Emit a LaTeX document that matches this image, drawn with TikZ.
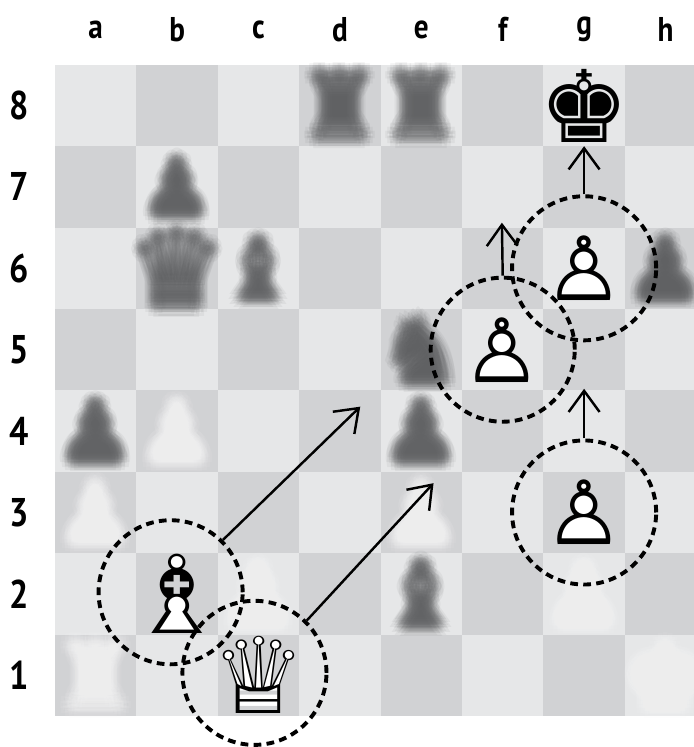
\documentclass[tikz,border=0pt]{standalone}
\usepackage{fontspec}
\usetikzlibrary{arrows.meta}
\newfontfamily\chessfont{DejaVu Sans}
\newfontfamily\boardfont[FakeStretch=0.85]{PT Sans}
\definecolor{sqlight}{RGB}{230,231,232}
\definecolor{sqdark}{RGB}{209,210,212}
\definecolor{ghostblack}{RGB}{96,97,99}
\definecolor{ghostwhite}{RGB}{250,250,250}
\tikzset{
  piece/.style={font=\chessfont\fontsize{#1}{#1}\selectfont, inner sep=0pt},
  piece/.default=32,
  ghost/.style 2 args={piece=#2, text=#1, opacity=0.075},
  filelabel/.style={font=\boardfont\bfseries\fontsize{12}{14}\selectfont, inner sep=0pt},
  ranklabel/.style={font=\boardfont\bfseries\fontsize{14}{16}\selectfont, inner sep=0pt},
  ring/.style={circle, draw, inner sep=0pt, minimum size=1.77cm, line width=0.048cm,
    dash pattern=on 0.095cm off 0.065cm},
  movearrow/.style={line width=0.03cm, -{Straight Barb[length=0.26cm,width=0.38cm]}},
}
% soft piece: the glyph laid down a few times round the square centre
\newcommand\ghostpiece[4][32]{%
  \foreach \a in {0,30,...,330} {
    \node[ghost={#3}{#1}, shift={(\a:0.035)}] (#2-in-\a) at (#2) {#4};
    \node[ghost={#3}{#1}, shift={(\a+15:0.075)}] (#2-mid-\a) at (#2) {#4};
    \node[ghost={#3}{#1}, shift={(\a:0.115)}] (#2-out-\a) at (#2) {#4};
  }%
}
\begin{document}
\begin{tikzpicture}
\useasboundingbox (-0.676,-0.381) rectangle (7.850,8.796);
\clip (-0.676,-0.381) rectangle (7.850,8.796);
\fill[white] (-0.676,-0.381) rectangle (7.850,8.796);

% Drawing the board
\fill[sqlight] (0,0) rectangle (8,8);
\foreach \row in {0,2,4,6}
  \foreach \col in {0,2,4,6} {
    \fill[sqdark] (\col,\row) rectangle ++(1,1);
    \fill[sqdark] (\col+1,\row+1) rectangle ++(1,1);
  }

% Square centres a1 ... h8
\foreach \f [count=\i from 0] in {a,...,h}
  \foreach \r in {1,...,8}
    \coordinate (\f\r) at (\i+0.5,\r-0.5);

% Files and ranks
\foreach \f [count=\i from 0] in {a,...,h}
  \node[filelabel] (file-\f) at (\i+0.5,8.43) {\f};
\foreach \r in {1,...,8}
  \node[ranklabel] (rank-\r) at (-0.44,\r-0.5) {\r};

% Pieces left soft
\ghostpiece{d8}{ghostblack}{♜}
\ghostpiece{e8}{ghostblack}{♜}
\ghostpiece[28]{b7}{ghostblack}{♟}
\ghostpiece[38]{b6}{ghostblack}{♛}
\ghostpiece[30]{c6}{ghostblack}{♝}
\ghostpiece[30]{h6}{ghostblack}{♟}
\ghostpiece{e5}{ghostblack}{♞}
\ghostpiece[30]{a4}{ghostblack}{♟}
\ghostpiece[30]{e4}{ghostblack}{♟}
\ghostpiece{e2}{ghostblack}{♝}
\ghostpiece[30]{b4}{ghostwhite}{♟}
\ghostpiece[30]{a3}{ghostwhite}{♟}
\ghostpiece[30]{e3}{ghostwhite}{♟}
\ghostpiece[30]{c2}{ghostwhite}{♟}
\ghostpiece[30]{g2}{ghostwhite}{♟}
\ghostpiece{a1}{ghostwhite}{♜}
\ghostpiece{h1}{ghostwhite}{♚}

% Sharp pieces
\node[piece=35] (king) at (g8) {♚};
\node[piece=38, text=white] (bishop-fill) at (b2) {♝};
\node[piece=38] (bishop) at (b2) {♗};
\node[piece=37, text=white] (queen-fill) at (c1) {♛};
\node[piece=37] (queen) at (c1) {♕};
\node[piece=31, text=white] (pawn-f5-fill) at (f5) {♟};
\node[piece=31] (pawn-f5) at (f5) {♙};
\node[piece=31, text=white] (pawn-g6-fill) at (g6) {♟};
\node[piece=31] (pawn-g6) at (g6) {♙};
\node[piece=31, text=white] (pawn-g3-fill) at (g3) {♟};
\node[piece=31] (pawn-g3) at (g3) {♙};

% Marking pieces by circle
\node[ring] (ring-b2) at (1.42,1.52) {};
\node[ring] (ring-c1) at (2.45,0.53) {};
\node[ring] (ring-f5) at (f5) {};
\node[ring] (ring-g6) at (g6) {};
\node[ring] (ring-g3) at (g3) {};

% Drawing moves
\coordinate (to-d4) at (3.75,3.80);
\coordinate (to-e3) at (4.65,2.86);
\coordinate (to-f6) at (5.49,6.06);
\coordinate (to-g7) at (6.50,7.00);
\coordinate (to-g4) at (6.50,4.02);
\draw[movearrow] (ring-b2.45) -- (to-d4);
\draw[movearrow] (ring-c1.45) -- (to-e3);
\draw[movearrow] (ring-f5.north) -- (to-f6);
\draw[movearrow] (ring-g6.north) -- (to-g7);
\draw[movearrow] (ring-g3.north) -- (to-g4);
\end{tikzpicture}
\end{document}
